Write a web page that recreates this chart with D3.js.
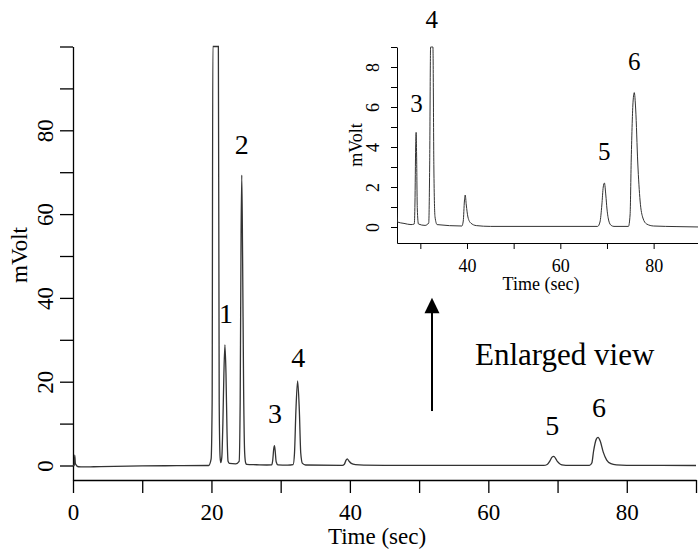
<!DOCTYPE html>
<html>
<head>
<meta charset="utf-8">
<script src="https://cdn.jsdelivr.net/npm/d3@7"></script>
<style>
body { margin: 0; background: #fff; }
text { font-family: "Liberation Serif", "Times New Roman", serif; fill: #000; }
</style>
</head>
<body>
<script>
// chromatogram trace (time in sec, signal in mV)
var timeSec = [0.00, 0.20, 0.25, 0.35, 0.8, 1.5, 3.0, 6.0, 10.0, 15.0, 19.6, 19.95, 20.10, 20.20, 21.00, 21.12, 21.25, 21.35,
  21.5, 21.65, 21.8, 21.95, 22.1, 22.25, 22.4, 22.6, 23.5, 24.0, 24.15, 24.28, 24.38, 24.5, 24.65, 24.8, 24.95, 25.1, 26.5, 28.0,
  28.7, 28.85, 29.0, 29.1, 29.2, 29.35, 29.6, 31.0, 31.8, 32.0, 32.2, 32.45, 32.7, 32.9, 33.15, 33.6,
  38.9, 39.2, 39.45, 39.62, 39.85, 40.2, 40.8, 42.0, 45.0,
  68.0, 68.5, 68.9, 69.2, 69.45, 69.75, 70.0, 70.4, 70.9, 71.5,
  74.6, 74.95, 75.2, 75.6, 75.85, 76.15, 76.6, 77.1, 77.7, 78.5, 80.0, 85.0, 90.0];
var mVolt = [0.0, 0.0, 2.5, 0.4, -0.3, -0.35, -0.3, -0.2, -0.1, -0.05, 0.0, 1.5, 15, 160, 160, 15, 2, 0.7,
  2, 10, 22, 28.8, 22, 8, 1, 0.5, 0.4, 1, 15, 55, 69.3, 50, 18, 3, 0.6, 0.25, 0.18, 0.12,
  0.15, 1.2, 4.0, 4.73, 3.6, 0.9, 0.15, 0.08, 0.2, 3, 13, 20.2, 13, 3, 0.5, 0.12,
  0.05, 0.3, 1.3, 1.6, 1.1, 0.5, 0.2, 0.07, 0.03,
  0.03, 0.25, 1.1, 2.0, 2.2, 1.6, 0.9, 0.3, 0.08, 0.03,
  0.03, 0.6, 3.4, 6.3, 6.72, 5.9, 3.2, 1.3, 0.45, 0.15, 0.05, 0.02, 0.0];

// main plot ticks
var mainXTicks = [0, 10, 20, 30, 40, 50, 60, 70, 80, 90];
var mainXLabels = [0, 20, 40, 60, 80];
var mainYTicks = [0, 10, 20, 30, 40, 50, 60, 70, 80, 90, 100];
var mainYLabels = [0, 20, 40, 60, 80];

// inset ticks
var insetXTicks = [30, 40, 50, 60, 70, 80, 90];
var insetXLabels = [40, 60, 80];
var insetYTicks = [0, 1, 2, 3, 4, 5, 6, 7, 8, 9];
var insetYLabels = [0, 2, 4, 6, 8];

// peak labels: text, time, label baseline (mV)
var mainPeakNames = ["1", "2", "3", "4", "5", "6"];
var mainPeakTime = [22.1, 24.37, 29.18, 32.55, 69.24, 76.0];
var mainPeakY = [34.0, 74.3, 10.2, 23.5, 7.3, 11.6];
var insetPeakNames = ["3", "4", "5", "6"];
var insetPeakTime = [29.2, 32.43, 69.42, 75.85];
var insetPeakY = [5.77, 9.93, 3.35, 7.85];

var trace = timeSec.map(function(t, i) { return {t: t, v: mVolt[i]}; });

var svg = d3.select("body").append("svg")
  .attr("width", 698)
  .attr("height", 550);

// ---------- main chart ----------
var x = d3.scaleLinear().domain([0, 90]).range([73, 696]);
var y = d3.scaleLinear().domain([-3.46, 100]).range([480, 46.5]).clamp(true);
var yText = y.copy().clamp(false);

var xAxis = svg.append("g")
  .attr("transform", "translate(0,480)")
  .call(d3.axisBottom(x).tickValues(mainXTicks).tickSize(13).tickSizeOuter(0)
    .tickFormat(function(d) { return mainXLabels.indexOf(d) >= 0 ? d : ""; }));
xAxis.attr("font-size", 23).attr("font-family", "Liberation Serif");
xAxis.selectAll("path, line").attr("stroke", "#000").attr("stroke-width", 1.3);
xAxis.selectAll("text").attr("y", 40).attr("dy", 0);

var yAxis = svg.append("g")
  .attr("transform", "translate(73,0)")
  .call(d3.axisLeft(y).tickValues(mainYTicks).tickSize(13).tickSizeOuter(0)
    .tickFormat(function(d) { return mainYLabels.indexOf(d) >= 0 ? d : ""; }));
yAxis.attr("font-size", 23).attr("font-family", "Liberation Serif");
yAxis.selectAll("path, line").attr("stroke", "#000").attr("stroke-width", 1.3);
yAxis.selectAll("text")
  .attr("x", 0).attr("y", -20).attr("dy", 0)
  .attr("text-anchor", "middle")
  .attr("transform", "rotate(-90)");

var line = d3.line()
  .x(function(d) { return x(d.t); })
  .y(function(d) { return y(d.v); })
  .curve(d3.curveMonotoneX);

svg.append("path")
  .datum(trace)
  .attr("fill", "none")
  .attr("stroke", "#333")
  .attr("stroke-width", 1.3)
  .attr("d", line);

svg.append("text")
  .attr("x", 377).attr("y", 544)
  .attr("text-anchor", "middle")
  .style("font-size", "23px")
  .text("Time (sec)");

svg.append("text")
  .attr("transform", "translate(27,255) rotate(-90)")
  .attr("text-anchor", "middle")
  .style("font-size", "23px")
  .text("mVolt");

svg.selectAll(".mainPeak")
  .data(mainPeakNames)
  .enter().append("text")
  .attr("class", "mainPeak")
  .attr("x", function(d, i) { return x(mainPeakTime[i]); })
  .attr("y", function(d, i) { return yText(mainPeakY[i]); })
  .attr("text-anchor", "middle")
  .style("font-size", "28px")
  .text(function(d) { return d; });

// arrow pointing to the inset
var arrowX = x(51.86), arrowBottom = yText(13.0), arrowTip = yText(40.05);
svg.append("line")
  .attr("x1", arrowX).attr("x2", arrowX)
  .attr("y1", arrowBottom).attr("y2", arrowTip + 14)
  .attr("stroke", "#000").attr("stroke-width", 2);
svg.append("path")
  .attr("d", "M" + arrowX + "," + arrowTip + "L" + (arrowX - 7.5) + "," + (arrowTip + 15.5) +
    "L" + (arrowX + 7.5) + "," + (arrowTip + 15.5) + "Z")
  .attr("fill", "#000");

svg.append("text")
  .attr("x", x(58.08)).attr("y", yText(24.0))
  .style("font-size", "31px")
  .text("Enlarged view");

// ---------- inset ----------
var xi = d3.scaleLinear().domain([25, 90]).range([397, 700.3]);
var yi = d3.scaleLinear().domain([-0.8, 9]).range([243, 47]).clamp(true);
var yiText = yi.copy().clamp(false);

svg.append("clipPath").attr("id", "insetClip")
  .append("rect").attr("x", 397).attr("y", 40).attr("width", 310).attr("height", 205);

var xiAxis = svg.append("g")
  .attr("transform", "translate(0,243)")
  .call(d3.axisBottom(xi).tickValues(insetXTicks).tickSize(6).tickSizeOuter(0)
    .tickFormat(function(d) { return insetXLabels.indexOf(d) >= 0 ? d : ""; }));
xiAxis.attr("font-size", 18).attr("font-family", "Liberation Serif");
xiAxis.selectAll("path, line").attr("stroke", "#000").attr("stroke-width", 1);
xiAxis.selectAll("text").attr("y", 28.7).attr("dy", 0);

var yiAxis = svg.append("g")
  .attr("transform", "translate(397,0)")
  .call(d3.axisLeft(yi).tickValues(insetYTicks).tickSize(6).tickSizeOuter(0)
    .tickFormat(function(d) { return insetYLabels.indexOf(d) >= 0 ? d : ""; }));
yiAxis.attr("font-size", 18).attr("font-family", "Liberation Serif");
yiAxis.selectAll("path, line").attr("stroke", "#000").attr("stroke-width", 1);
yiAxis.selectAll("text")
  .attr("x", 0).attr("y", -18).attr("dy", 0)
  .attr("text-anchor", "middle")
  .attr("transform", "rotate(-90)");

var lineInset = d3.line()
  .x(function(d) { return xi(d.t); })
  .y(function(d) { return yi(d.v); })
  .curve(d3.curveMonotoneX);

svg.append("path")
  .datum(trace)
  .attr("clip-path", "url(#insetClip)")
  .attr("fill", "none")
  .attr("stroke", "#333")
  .attr("stroke-width", 1)
  .attr("d", lineInset);

svg.append("text")
  .attr("x", 541).attr("y", 290)
  .attr("text-anchor", "middle")
  .style("font-size", "18px")
  .text("Time (sec)");

svg.append("text")
  .attr("transform", "translate(362,145) rotate(-90)")
  .attr("text-anchor", "middle")
  .style("font-size", "18px")
  .text("mVolt");

svg.selectAll(".insetPeak")
  .data(insetPeakNames)
  .enter().append("text")
  .attr("class", "insetPeak")
  .attr("x", function(d, i) { return xi(insetPeakTime[i]); })
  .attr("y", function(d, i) { return yiText(insetPeakY[i]); })
  .attr("text-anchor", "middle")
  .style("font-size", "25px")
  .text(function(d) { return d; });
</script>
</body>
</html>
